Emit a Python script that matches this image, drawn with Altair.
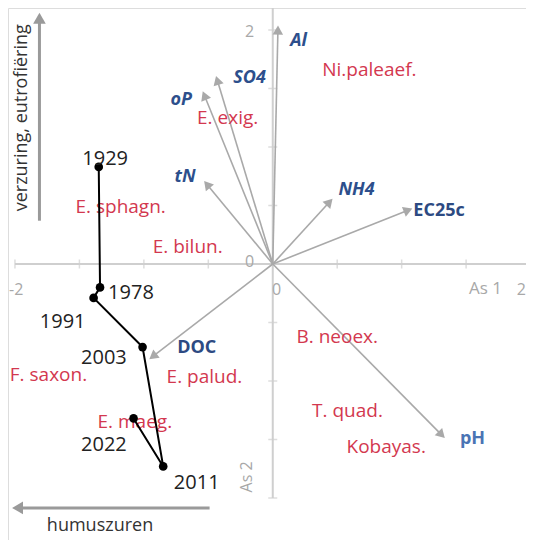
import altair as alt
import pandas as pd
import numpy as np

# ---------------- data ----------------
env_names = ["Al", "SO4", "oP", "tN", "NH4", "EC25c", "pH", "DOC"]
env_x = [0.04, -0.43, -0.53, -0.51, 0.44, 1.05, 1.31, -0.93]
env_y = [2.00, 1.57, 1.44, 0.68, 0.53, 0.46, -1.46, -0.79]
env_lx = [0.20, -0.18, -0.71, -0.68, 0.65, 1.29, 1.55, -0.59]
env_ly = [1.91, 1.59, 1.40, 0.74, 0.63, 0.45, -1.50, -0.72]
env_style = ["it", "it", "it", "it", "it", "up", "ph", "up"]

species = ["Ni.paleaef.", "E. exig.", "E. sphagn.", "E. bilun.", "B. neoex.",
           "F. saxon.", "E. palud.", "E. maeg.", "T. quad.", "Kobayas."]
species_x = [0.75, -0.35, -1.18, -0.66, 0.50, -1.74, -0.53, -1.07, 0.58, 0.88]
species_y = [1.66, 1.25, 0.49, 0.145, -0.62, -0.95, -0.97, -1.35, -1.26, -1.56]

years = ["1929", "1978", "1991", "2003", "2011", "2022"]
year_x = [-1.35, -1.34, -1.39, -1.01, -0.85, -1.08]
year_y = [0.83, -0.20, -0.29, -0.71, -1.73, -1.32]
year_lx = [-1.30, -1.10, -1.63, -1.31, -0.59, -1.31]
year_ly = [0.90, -0.25, -0.50, -0.80, -1.87, -1.55]

tick_vals = [-2, -1.5, -1, -0.5, 0.5, 1, 1.5, 2]
xlabels = ["-2", "0"]
xlabel_pos = [-1.99, 0.03]
ylabels = ["2", "0"]
ylabel_pos = [1.98, 0.02]

# ---------------- layout ----------------
W, H = 518, 532
PXX = 128.9
XD = [-2.054, -2.054 + W / PXX]
YD = [-2.359, 2.188]
sx = W / (XD[1] - XD[0])
sy = H / (YD[1] - YD[0])


def ang(dx, dy):
    return float(np.degrees(np.arctan2(dx * sx, dy * sy)) % 360)


xs = alt.Scale(domain=XD, nice=False, zero=False)
ys = alt.Scale(domain=YD, nice=False, zero=False)
X = lambda f: alt.X(f, type="quantitative", scale=xs, axis=None)
Y = lambda f: alt.Y(f, type="quantitative", scale=ys, axis=None)

FONT = "Open Sans"
AXC = "#cfcfcf"
LBC = "#a8a8a8"

# axes
axes_df = pd.DataFrame({"x": [-2, 0], "x2": [XD[1], 0], "y": [0, -2], "y2": [0, 2.2]})
axes = alt.Chart(axes_df).mark_rule(color=AXC, strokeWidth=2).encode(
    x=X("x"), x2="x2", y=Y("y"), y2="y2")

xt = alt.Chart(pd.DataFrame({"x": tick_vals, "y": [0] * len(tick_vals)})).mark_tick(
    orient="vertical", size=9, thickness=1.5, color=AXC).encode(x=X("x"), y=Y("y"))
yt = alt.Chart(pd.DataFrame({"y": tick_vals, "x": [0] * len(tick_vals)})).mark_tick(
    orient="horizontal", size=9, thickness=1.5, color=AXC).encode(x=X("x"), y=Y("y"))

xl = alt.Chart(pd.DataFrame({"t": xlabels, "x": xlabel_pos, "y": [-0.22] * 2})).mark_text(
    font=FONT, fontSize=16, color=LBC).encode(x=X("x"), y=Y("y"), text="t")
xl_end = alt.Chart(pd.DataFrame({"t": ["2"], "x": [XD[1]], "y": [-0.22]})).mark_text(
    font=FONT, fontSize=16, color=LBC, align="right").encode(x=X("x"), y=Y("y"), text="t")
yl = alt.Chart(pd.DataFrame({"t": ylabels, "y": ylabel_pos, "x": [-0.18] * 2})).mark_text(
    font=FONT, fontSize=16, color=LBC).encode(x=X("x"), y=Y("y"), text="t")
as1 = alt.Chart(pd.DataFrame({"t": ["As 1"], "x": [1.65], "y": [-0.21]})).mark_text(
    font=FONT, fontSize=17, color=LBC).encode(x=X("x"), y=Y("y"), text="t")
as2 = alt.Chart(pd.DataFrame({"t": ["As 2"], "x": [-0.20], "y": [-1.82]})).mark_text(
    font=FONT, fontSize=16, color=LBC, angle=270).encode(x=X("x"), y=Y("y"), text="t")

# environmental arrows
env_df = pd.DataFrame({"name": env_names, "x": env_x, "y": env_y,
                       "x0": [0.0] * 8, "y0": [0.0] * 8,
                       "lx": env_lx, "ly": env_ly, "style": env_style})
env_df["ang"] = [ang(a, b) for a, b in zip(env_x, env_y)]
shaft = alt.Chart(env_df).mark_rule(color="#a9a9a9", strokeWidth=1.6).encode(
    x=X("x0"), y=Y("y0"), x2="x", y2="y")
heads = alt.Chart(env_df).mark_point(shape="triangle-up", filled=True, opacity=1,
                                     size=110, color="#a9a9a9").encode(
    x=X("x"), y=Y("y"), angle=alt.Angle("ang:Q", scale=None))

lab_it = alt.Chart(env_df[env_df["style"] == "it"]).mark_text(
    font=FONT, fontSize=18, fontWeight="bold", fontStyle="italic", color="#2d4f8c").encode(
    x=X("lx"), y=Y("ly"), text="name")
lab_up = alt.Chart(env_df[env_df["style"] == "up"]).mark_text(
    font=FONT, fontSize=18, fontWeight="bold", color="#2d4a82").encode(
    x=X("lx"), y=Y("ly"), text="name")
lab_ph = alt.Chart(env_df[env_df["style"] == "ph"]).mark_text(
    font=FONT, fontSize=18, fontWeight="bold", color="#4a74b4").encode(
    x=X("lx"), y=Y("ly"), text="name")

# species labels
sp_df = pd.DataFrame({"name": species, "x": species_x, "y": species_y})
sp = alt.Chart(sp_df).mark_text(font=FONT, fontSize=19, color="#d3384f").encode(
    x=X("x"), y=Y("y"), text="name")

# trajectory
yr_df = pd.DataFrame({"yr": years, "x": year_x, "y": year_y, "lx": year_lx,
                      "ly": year_ly, "o": list(range(len(years)))})
traj = alt.Chart(yr_df).mark_line(color="black", strokeWidth=2).encode(
    x=X("x"), y=Y("y"), order="o:Q")
pts = alt.Chart(yr_df).mark_circle(color="black", size=75, opacity=1).encode(
    x=X("x"), y=Y("y"))
ylab = alt.Chart(yr_df).mark_text(font=FONT, fontSize=20, color="#222222").encode(
    x=X("lx"), y=Y("ly"), text="yr")

# annotation arrows
ann_df = pd.DataFrame({"x": [-1.81, -0.49], "y": [0.37, -2.085],
                       "x2": [-1.81, -1.98], "y2": [2.10, -2.085]})
ann_df["ang"] = [ang(0, 1), ang(-1, 0)]
ann = alt.Chart(ann_df).mark_rule(color="#9a9a9a", strokeWidth=3).encode(
    x=X("x"), y=Y("y"), x2="x2", y2="y2")
ann_h = alt.Chart(ann_df).mark_point(shape="triangle-up", filled=True, opacity=1,
                                     size=160, color="#9a9a9a").encode(
    x=X("x2"), y=Y("y2"), angle=alt.Angle("ang:Q", scale=None))
ann_t1 = alt.Chart(pd.DataFrame({"t": ["verzuring, eutrofiëring"], "x": [-1.945], "y": [1.25]})).mark_text(
    font=FONT, fontSize=18, color="#333333", angle=270).encode(x=X("x"), y=Y("y"), text="t")
ann_t2 = alt.Chart(pd.DataFrame({"t": ["humuszuren"], "x": [-1.34], "y": [-2.24]})).mark_text(
    font=FONT, fontSize=18, color="#333333").encode(x=X("x"), y=Y("y"), text="t")

chart = alt.layer(
    axes, xt, yt, xl, xl_end, yl, as1, as2,
    shaft, heads, ann, ann_h, ann_t1, ann_t2,
    sp, traj, pts, ylab, lab_it, lab_up, lab_ph,
).properties(
    width=W, height=H, padding=0,
    autosize=alt.AutoSizeParams(type="none"),
).configure_view(stroke=None).configure(background="white")

chart.save("out.html", embed_options={"renderer": "svg", "actions": False})
